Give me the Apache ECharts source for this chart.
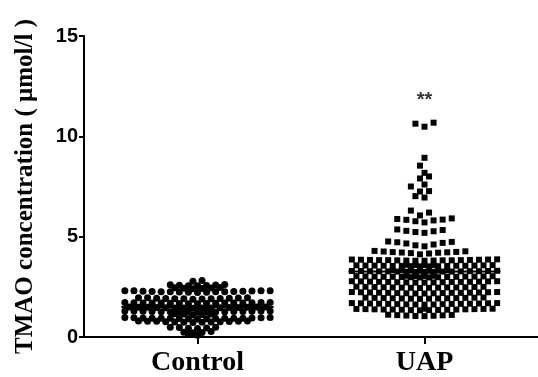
<!DOCTYPE html>
<html lang="en">

<head>
  <meta charset="utf-8">
  <script src="https://cdn.jsdelivr.net/npm/echarts@6/dist/echarts.min.js"></script>
  <style>body { margin: 0; }</style>
</head>

<body>
  <div id="tmaoChart" style="width: 538px;height:377px;"></div>

  <script type="text/javascript">

    var groups = ['Control', 'UAP'];

    var controlValues = [0.09, 0.12,
      0.21, 0.23, 0.24, 0.27,
      0.42, 0.44, 0.45, 0.47, 0.48, 0.49,
      0.72, 0.73, 0.74, 0.75, 0.75, 0.76, 0.76, 0.77, 0.78, 0.78, 0.79, 0.8, 0.8,
      0.9, 0.91, 0.91, 0.92, 0.92, 0.93, 0.93, 0.93, 0.94, 0.94, 0.94, 0.95, 0.95, 0.96, 0.96, 0.97, 0.97,
      1.1, 1.12, 1.14, 1.15, 1.16,
      1.23, 1.24, 1.24, 1.25, 1.25, 1.26, 1.26, 1.26, 1.27, 1.27, 1.27, 1.28, 1.28, 1.29, 1.29, 1.3, 1.3,
      1.43, 1.44, 1.44, 1.45, 1.45, 1.46, 1.46, 1.47, 1.47, 1.47, 1.48, 1.48, 1.48, 1.49, 1.49, 1.5, 1.5, 1.5, 1.51, 1.51,
      1.66, 1.66, 1.67, 1.67, 1.68, 1.68, 1.69, 1.69, 1.69, 1.7, 1.7, 1.7, 1.71, 1.71, 1.72, 1.72, 1.72,
      1.88, 1.89, 1.9, 1.9, 1.91, 1.92, 1.92, 1.93, 1.93, 1.94, 1.95, 1.95, 1.96,
      2.22, 2.23, 2.23, 2.24, 2.25, 2.25, 2.26, 2.26, 2.27, 2.27, 2.28, 2.28, 2.29, 2.3, 2.3, 2.31, 2.31,
      2.4, 2.42, 2.43, 2.44, 2.45, 2.47,
      2.55, 2.56, 2.57, 2.58, 2.59, 2.6, 2.62,
      2.78, 2.82];

    var uapValues = [10.48, 10.63, 10.68, 8.93, 8.54, 8.18, 8.0, 7.9, 7.6, 7.5, 7.27, 7.25, 7.02, 6.95, 6.3, 6.2, 6.06,
      5.71, 5.77, 5.81, 5.84, 5.85, 5.88, 5.91,
      5.19, 5.23, 5.27, 5.29, 5.33, 5.36,
      4.52, 4.57, 4.61, 4.66, 4.69, 4.72, 4.74, 4.76,
      4.12, 4.16, 4.18, 4.2, 4.21, 4.22, 4.23, 4.24, 4.26, 4.27, 4.29,
      3.8, 3.8, 3.81, 3.81, 3.82, 3.82, 3.82, 3.83, 3.83, 3.83, 3.84, 3.84, 3.85, 3.85, 3.86, 3.86, 3.87,
      3.52, 3.52, 3.53, 3.53, 3.54, 3.54, 3.54, 3.55, 3.55, 3.55, 3.56, 3.56, 3.56, 3.57, 3.57, 3.58, 3.58, 3.59, 3.59, 3.6,
      3.24, 3.24, 3.25, 3.25, 3.26, 3.26, 3.26, 3.27, 3.27, 3.27, 3.28, 3.28, 3.28, 3.29, 3.29, 3.29, 3.3, 3.3, 3.3, 3.31, 3.31, 3.32, 3.32, 3.33,
      2.97, 2.97, 2.98, 2.98, 2.99, 2.99, 3.0, 3.0, 3.0, 3.01, 3.01, 3.01, 3.02, 3.02, 3.03, 3.03, 3.04, 3.04, 3.05, 3.05,
      2.71, 2.71, 2.72, 2.72, 2.73, 2.73, 2.74, 2.74, 2.74, 2.75, 2.75, 2.76, 2.76, 2.77, 2.77, 2.78, 2.78,
      2.44, 2.45, 2.45, 2.46, 2.46, 2.47, 2.47, 2.47, 2.48, 2.48, 2.49, 2.49, 2.5, 2.5, 2.51,
      2.17, 2.17, 2.18, 2.18, 2.19, 2.19, 2.2, 2.2, 2.2, 2.21, 2.21, 2.22, 2.22, 2.23, 2.23, 2.24, 2.24,
      1.9, 1.91, 1.91, 1.92, 1.92, 1.93, 1.93, 1.94, 1.94, 1.95, 1.95, 1.96, 1.96, 1.97,
      1.61, 1.62, 1.62, 1.63, 1.64, 1.64, 1.65, 1.65, 1.65, 1.66, 1.66, 1.67, 1.67, 1.68, 1.68, 1.69, 1.69,
      1.33, 1.34, 1.34, 1.35, 1.36, 1.36, 1.37, 1.37, 1.37, 1.38, 1.38, 1.39, 1.39, 1.4, 1.4, 1.41, 1.41,
      1.04, 1.05, 1.06, 1.07, 1.08, 1.09, 1.1, 1.11];

    // horizontal line drawn across each group
    var groupLines = [1.49, 3.26];
    var starLabel = '**';
    var starValue = 11.8;

    // layout
    var W = 538, H = 377;
    var gridLeft = 84, gridRight = -6, gridTop = 36, gridBottom = 39;
    var xMin = -0.5, xMax = 1.5, yMax = 15;
    var slotPx = 9.2, maxSlots = 8;
    var pxX = (W - gridLeft - gridRight) / (xMax - xMin);
    var pxY = (H - gridTop - gridBottom) / yMax;

    // GraphPad-like scatter dot layout: values grouped into rows,
    // close rows are shifted by half a slot so they interleave
    function swarm(values, center, binH, closePx) {
        var sorted = values.slice().sort(function (a, b) { return a - b; });
        var bins = [];
        sorted.forEach(function (v) {
            var b = bins[bins.length - 1];
            if (b && v - b[0] <= binH) b.push(v); else bins.push([v]);
        });
        var intSlots = [0], halfSlots = [];
        for (var k = 1; k <= maxSlots; k++) intSlots.push(-k, k);
        for (var k = 0; k < maxSlots; k++) halfSlots.push(-(k + 0.5), k + 0.5);
        var out = [], prevStart = null, prevStag = false;
        bins.forEach(function (b) {
            var close = prevStart !== null && (b[0] - prevStart) * pxY < closePx;
            var stag = close ? !prevStag : false;
            var order = stag ? halfSlots.concat(intSlots) : intSlots.concat(halfSlots);
            b.forEach(function (v, i) {
                out.push([center + order[i % order.length] * slotPx / pxX, v]);
            });
            prevStart = b[0];
            prevStag = stag;
        });
        return out;
    }

    function createChart() {
        const chart = echarts.init(document.getElementById('tmaoChart'));
        const halfLine = 0.335;

        let option = {
            animation: false,
            grid: {left: gridLeft, right: gridRight, top: gridTop, bottom: gridBottom},
            xAxis: {
                type: 'value',
                min: xMin,
                max: xMax,
                splitLine: {show: false},
                axisLine: {onZero: false, lineStyle: {color: '#000', width: 2}},
                axisTick: {customValues: [0, 1], length: 7, lineStyle: {color: '#000', width: 2}},
                axisLabel: {
                    customValues: [0, 1],
                    formatter: function (v) { return groups[Math.round(v)]; },
                    color: '#000',
                    fontFamily: 'Liberation Serif',
                    fontWeight: 'bold',
                    fontSize: 28,
                    margin: 12
                }
            },
            yAxis: {
                type: 'value',
                min: 0,
                max: yMax,
                interval: 5,
                name: 'TMAO concentration ( μmol/l )',
                nameLocation: 'middle',
                nameGap: 46,
                nameTextStyle: {color: '#000', fontFamily: 'Liberation Serif', fontWeight: 'bold', fontSize: 25},
                splitLine: {show: false},
                axisLine: {show: true, onZero: false, lineStyle: {color: '#000', width: 2}},
                axisTick: {show: true, length: 5, lineStyle: {color: '#000', width: 2}},
                axisLabel: {color: '#000', fontFamily: 'Liberation Sans', fontWeight: 'bold', fontSize: 20, margin: 6}
            },
            series: [
                {
                    name: groups[0],
                    type: 'scatter',
                    symbol: 'circle',
                    symbolSize: 7,
                    itemStyle: {color: '#000', opacity: 1},
                    data: swarm(controlValues, 0, 0.1, 9)
                },
                {
                    name: groups[1],
                    type: 'scatter',
                    symbol: 'rect',
                    symbolSize: 6,
                    itemStyle: {color: '#000', opacity: 1},
                    data: swarm(uapValues, 1, 0.25, 7.8)
                },
                {
                    type: 'line',
                    symbol: 'none',
                    z: 5,
                    lineStyle: {color: '#000', width: 2},
                    data: [[0 - halfLine, groupLines[0]], [0 + halfLine, groupLines[0]]]
                },
                {
                    type: 'line',
                    symbol: 'none',
                    z: 5,
                    lineStyle: {color: '#000', width: 2},
                    data: [[1 - halfLine, groupLines[1]], [1 + halfLine, groupLines[1]]]
                },
                {
                    type: 'scatter',
                    symbolSize: 0,
                    label: {
                        show: true,
                        position: 'inside',
                        formatter: starLabel,
                        color: '#000',
                        fontFamily: 'Liberation Sans',
                        fontWeight: 'bold',
                        fontSize: 20
                    },
                    data: [[1, starValue]]
                }
            ]
        };

        chart.setOption(option);
    }
    createChart();
  </script>
</body>

</html>
